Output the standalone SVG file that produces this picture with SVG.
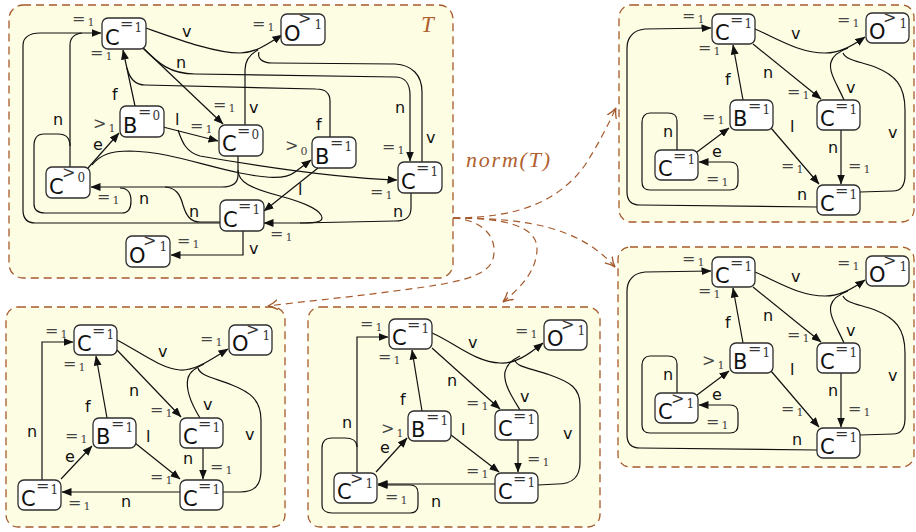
<svg xmlns="http://www.w3.org/2000/svg" width="916" height="532" viewBox="0 0 916 532">
<defs>
<style>
.pan{fill:#fdfde3;stroke:#a65a2c;stroke-width:1.3;stroke-dasharray:8 5}
.nd rect{fill:#fff;stroke:#2e2e2e;stroke-width:1.3}
.lt{font-family:"DejaVu Sans",sans-serif;font-size:21px;fill:#111}
.s{font-family:"DejaVu Serif","Liberation Serif",serif;font-size:16px;fill:#333}
.s tspan{font-size:12px}
.q{font-family:"DejaVu Serif","Liberation Serif",serif;font-size:16px;fill:#444}
.q tspan{font-size:11px}
.el{font-family:"DejaVu Sans",sans-serif;font-size:16px;fill:#111}
.e{fill:none;stroke:#111;stroke-width:1.2}
.a{marker-end:url(#ah)}
.dz{fill:none;stroke:#a65a2c;stroke-width:1.2;stroke-dasharray:7 5;marker-end:url(#oh)}
.br{font-family:"Liberation Serif",serif;font-style:italic;font-weight:normal;fill:#b0602e}
</style>
<marker id="ah" viewBox="0 0 10 8" refX="9.5" refY="4" markerWidth="10" markerHeight="8" markerUnits="userSpaceOnUse" orient="auto">
<path d="M0,0 L10,4 L0,8 z" fill="#111"/>
</marker>
<marker id="oh" viewBox="0 0 10 10" refX="9" refY="5" markerWidth="11" markerHeight="11" markerUnits="userSpaceOnUse" orient="auto">
<path d="M0,0.5 Q5,4 9,5 Q5,6 0,9.5" fill="none" stroke="#a65a2c" stroke-width="1.2" stroke-dasharray="none"/>
</marker>
</defs>

<!-- panels -->
<rect class="pan" x="9" y="5" width="444" height="273" rx="14"/>
<rect class="pan" x="619" y="5" width="295" height="217" rx="12"/>
<rect class="pan" x="618" y="247" width="296" height="220" rx="12"/>
<rect class="pan" x="6" y="307" width="279" height="220" rx="12"/>
<rect class="pan" x="308" y="307" width="292" height="220" rx="12"/>

<text class="br" x="421" y="32" font-size="23">T</text>
<text class="br" x="466" y="167" font-size="22" textLength="84" lengthAdjust="spacing">norm(T)</text>

<!-- transformation arrows -->
<g id="norm-arrows">
<path class="dz" d="M453,218 C520,218 560,200 585,165 C598,145 608,125 616,108"/>
<path class="dz" d="M453,218 C530,218 580,228 615,267"/>
<path class="dz" d="M453,218 C505,218 538,226 537,250 C536,272 520,288 503,302"/>
<path class="dz" d="M453,218 C485,220 500,240 492,262 C482,282 430,286 380,293 C340,298 300,302 268,306"/>
</g>

<!-- ===== graph T ===== -->
<g id="t-edges">
<path class="e a" d="M146,28 C180,40 215,53 240,53 C255,53 268,44 282,35"/>
<path class="e" d="M245,125 L245,70 C245,60 250,54 258,50"/>
<path class="e" d="M422,162 L422,92 C422,75 412,65 395,64 L272,63 C262,63 257,58 259,52"/>
<path class="e a" d="M143,48 L223,124"/>
<path class="e a" d="M143,48 C158,63 170,74 195,74 L395,77 C405,77 410,84 410,95 L410,161"/>
<path class="e a" d="M135,106 L123,50"/>
<path class="e" d="M330,137 L330,101 C330,93 325,89 316,89 L145,85 C136,85 130,80 127,68"/>
<path class="e a" d="M163,127 L218,141"/>
<path class="e a" d="M178,130 C182,142 186,152 200,156 C280,170 340,178 397,180"/>
<path class="e a" d="M92,165 C100,155 110,151 130,151 C170,152 200,165 240,173 C265,178 285,180 295,172 L311,160"/>
<path class="e a" d="M88,168 L119,133"/>
<path class="e a" d="M238,156 L238,175 C238,183 232,187 222,187 L91,187"/>
<path class="e a" d="M238,170 C238,182 250,188 280,196 C310,204 322,212 322,218 C322,222 315,223 305,223 L264,223"/>
<path class="e" d="M411,193 L411,208 C411,218 405,221 395,221 L300,223"/>
<path class="e" d="M220,222 L200,222 C190,222 186,215 183,205 C180,194 176,188 165,187"/>
<path class="e a" d="M220,223 L35,223 C27,223 23,218 23,210 L23,45 C23,38 29,33 40,33 L101,33"/>
<path class="e" d="M70,167 L70,45 C70,38 74,34 82,33"/>
<path class="e" d="M70,146 C70,138 66,134 58,134 L44,134 C37,134 34,138 34,146 L34,204 C34,210 38,213 45,213 L122,213 C129,213 131,208 131,201 C131,193 128,188 120,188"/>
<path class="e a" d="M318,168 L264,211"/>
<path class="e a" d="M243,231 L243,255 L171,255"/>
<text class="el" x="182" y="37">v</text>
<text class="el" x="176" y="68">n</text>
<text class="el" x="112" y="100">f</text>
<text class="el" x="53" y="125">n</text>
<text class="el" x="175" y="125">l</text>
<text class="el" x="93" y="150">e</text>
<text class="el" x="249" y="113">v</text>
<text class="el" x="395" y="113">n</text>
<text class="el" x="316" y="130">f</text>
<text class="el" x="426" y="143">v</text>
<text class="el" x="298" y="195">l</text>
<text class="el" x="393" y="217">n</text>
<text class="el" x="189" y="217">n</text>
<text class="el" x="139" y="204">n</text>
<text class="el" x="249" y="254">v</text>
</g>
<g id="t-c1" class="nd"><rect x="102" y="18" width="44" height="31" rx="6"/><text class="lt" x="105" y="45">C</text><text class="s" x="120" y="29">=<tspan dx="1" dy="3">1</tspan></text>
<text class="q" x="72" y="24">=<tspan dx="2" dy="2">1</tspan></text><text class="q" x="90" y="58">=<tspan dx="2" dy="2">1</tspan></text></g>
<g id="t-o" class="nd"><rect x="281" y="14" width="44" height="31" rx="6"/><text class="lt" x="284" y="41">O</text><text class="s" x="298" y="24">&gt;<tspan dx="3" dy="5">1</tspan></text>
<text class="q" x="252" y="29">=<tspan dx="2" dy="2">1</tspan></text></g>
<g id="t-b0" class="nd"><rect x="120" y="106" width="44" height="31" rx="6"/><text class="lt" x="123" y="133">B</text><text class="s" x="138" y="117">=<tspan dx="1" dy="3">0</tspan></text>
<text class="q" x="93" y="129">&gt;<tspan dx="2" dy="3">1</tspan></text></g>
<g id="t-c0" class="nd"><rect x="219" y="125" width="44" height="31" rx="6"/><text class="lt" x="222" y="151">C</text><text class="s" x="237" y="136">=<tspan dx="1" dy="3">0</tspan></text>
<text class="q" x="213" y="110">=<tspan dx="2" dy="2">1</tspan></text><text class="q" x="190" y="131">=<tspan dx="2" dy="2">1</tspan></text></g>
<g id="t-b1" class="nd"><rect x="312" y="137" width="44" height="31" rx="6"/><text class="lt" x="315" y="164">B</text><text class="s" x="330" y="148">=<tspan dx="1" dy="3">1</tspan></text>
<text class="q" x="285" y="151">&gt;<tspan dx="2" dy="4">0</tspan></text></g>
<g id="t-cr" class="nd"><rect x="398" y="162" width="44" height="31" rx="6"/><text class="lt" x="401" y="189">C</text><text class="s" x="416" y="173">=<tspan dx="1" dy="3">1</tspan></text>
<text class="q" x="382" y="152">=<tspan dx="2" dy="2">1</tspan></text><text class="q" x="370" y="197">=<tspan dx="2" dy="2">1</tspan></text></g>
<g id="t-cb" class="nd"><rect x="220" y="200" width="44" height="31" rx="6"/><text class="lt" x="223" y="227">C</text><text class="s" x="238" y="211">=<tspan dx="1" dy="3">1</tspan></text>
<text class="q" x="270" y="239">=<tspan dx="2" dy="2">1</tspan></text></g>
<g id="t-cl" class="nd"><rect x="46" y="167" width="44" height="31" rx="6"/><text class="lt" x="49" y="194">C</text><text class="s" x="62" y="178">&gt;<tspan dx="2" dy="4">0</tspan></text>
<text class="q" x="97" y="202">=<tspan dx="2" dy="2">1</tspan></text></g>
<g id="t-ob" class="nd"><rect x="126" y="236" width="44" height="31" rx="6"/><text class="lt" x="129" y="263">O</text><text class="s" x="143" y="246">&gt;<tspan dx="3" dy="5">1</tspan></text>
<text class="q" x="177" y="246">=<tspan dx="2" dy="2">1</tspan></text></g>

<!-- ===== normal form 1 (top right) ===== -->
<g id="n1-edges">
<path class="e a" d="M755,29 C780,40 800,53 825,53 C840,53 852,46 865,37"/>
<path class="e" d="M844,100 C838,86 828,72 831,62 C833,55 840,51 848,48"/>
<path class="e" d="M860,192 L893,191 C902,191 905,185 905,175 L905,110 C905,85 895,75 875,67 C858,61 846,60 843,53"/>
<path class="e a" d="M753,44 L821,99"/>
<path class="e a" d="M841,130 L841,184"/>
<path class="e a" d="M743,100 L733,45"/>
<path class="e a" d="M771,128 L819,184"/>
<path class="e a" d="M697,152 L729,128"/>
<path class="e a" d="M677,150 L677,121 C677,116 674,113 668,113 L650,113 C645,113 642,117 642,122 L642,182 C642,187 645,190 650,190 L730,190 C735,190 738,187 738,182 L738,170 C738,165 735,162 730,162 L699,162"/>
<path class="e a" d="M817,207 L640,205 C631,205 627,200 627,192 L627,48 C627,38 633,30 645,29 L711,28"/>
<text class="el" x="791" y="39">v</text>
<text class="el" x="763" y="78">n</text>
<text class="el" x="725" y="85">f</text>
<text class="el" x="790" y="132">l</text>
<text class="el" x="846" y="93">v</text>
<text class="el" x="888" y="138">v</text>
<text class="el" x="828" y="153">n</text>
<text class="el" x="663" y="137">n</text>
<text class="el" x="712" y="157">e</text>
<text class="el" x="797" y="200">n</text>
</g>
<g id="n1-c1" class="nd"><rect x="712" y="14" width="43" height="30" rx="6"/><text class="lt" x="715" y="40">C</text><text class="s" x="730" y="25">=<tspan dx="1" dy="3">1</tspan></text>
<text class="q" x="682" y="21">=<tspan dx="2" dy="2">1</tspan></text><text class="q" x="698" y="53">=<tspan dx="2" dy="2">1</tspan></text></g>
<g id="n1-o" class="nd"><rect x="866" y="13" width="43" height="30" rx="6"/><text class="lt" x="869" y="39">O</text><text class="s" x="883" y="23">&gt;<tspan dx="3" dy="5">1</tspan></text>
<text class="q" x="837" y="25">=<tspan dx="2" dy="2">1</tspan></text></g>
<g id="n1-b" class="nd"><rect x="730" y="100" width="43" height="30" rx="6"/><text class="lt" x="733" y="126">B</text><text class="s" x="748" y="111">=<tspan dx="1" dy="3">1</tspan></text>
<text class="q" x="702" y="122">=<tspan dx="2" dy="2">1</tspan></text></g>
<g id="n1-cm" class="nd"><rect x="817" y="100" width="43" height="30" rx="6"/><text class="lt" x="820" y="126">C</text><text class="s" x="835" y="111">=<tspan dx="1" dy="3">1</tspan></text>
<text class="q" x="787" y="97">=<tspan dx="2" dy="2">1</tspan></text></g>
<g id="n1-cl" class="nd"><rect x="655" y="150" width="43" height="30" rx="6"/><text class="lt" x="658" y="176">C</text><text class="s" x="673" y="161">=<tspan dx="1" dy="3">1</tspan></text>
<text class="q" x="706" y="184">=<tspan dx="2" dy="2">1</tspan></text></g>
<g id="n1-cb" class="nd"><rect x="817" y="185" width="43" height="30" rx="6"/><text class="lt" x="820" y="211">C</text><text class="s" x="835" y="196">=<tspan dx="1" dy="3">1</tspan></text>
<text class="q" x="781" y="171">=<tspan dx="2" dy="2">1</tspan></text><text class="q" x="848" y="171">=<tspan dx="2" dy="2">1</tspan></text></g>

<!-- ===== normal form 2 (bottom right) ===== -->
<g transform="translate(0,243)">
<g id="n2-edges">
<path class="e a" d="M755,29 C780,40 800,53 825,53 C840,53 852,46 865,37"/>
<path class="e" d="M844,100 C838,86 828,72 831,62 C833,55 840,51 848,48"/>
<path class="e" d="M860,192 L893,191 C902,191 905,185 905,175 L905,110 C905,85 895,75 875,67 C858,61 846,60 843,53"/>
<path class="e a" d="M753,44 L821,99"/>
<path class="e a" d="M841,130 L841,184"/>
<path class="e a" d="M743,100 L733,45"/>
<path class="e a" d="M771,128 L819,184"/>
<path class="e a" d="M697,152 L729,128"/>
<path class="e a" d="M677,150 L677,121 C677,116 674,113 668,113 L650,113 C645,113 642,117 642,122 L642,182 C642,187 645,190 650,190 L730,190 C735,190 738,187 738,182 L738,170 C738,165 735,162 730,162 L699,162"/>
<path class="e a" d="M817,207 L640,205 C631,205 627,200 627,192 L627,48 C627,38 633,30 645,29 L711,28"/>
<text class="el" x="791" y="39">v</text>
<text class="el" x="763" y="78">n</text>
<text class="el" x="725" y="85">f</text>
<text class="el" x="790" y="132">l</text>
<text class="el" x="846" y="93">v</text>
<text class="el" x="888" y="138">v</text>
<text class="el" x="828" y="153">n</text>
<text class="el" x="663" y="137">n</text>
<text class="el" x="712" y="157">e</text>
<text class="el" x="792" y="202">n</text>
</g>
<g id="n2-c1" class="nd"><rect x="712" y="14" width="43" height="30" rx="6"/><text class="lt" x="715" y="40">C</text><text class="s" x="730" y="25">=<tspan dx="1" dy="3">1</tspan></text>
<text class="q" x="682" y="21">=<tspan dx="2" dy="2">1</tspan></text><text class="q" x="698" y="53">=<tspan dx="2" dy="2">1</tspan></text></g>
<g id="n2-o" class="nd"><rect x="866" y="13" width="43" height="30" rx="6"/><text class="lt" x="869" y="39">O</text><text class="s" x="883" y="23">&gt;<tspan dx="3" dy="5">1</tspan></text>
<text class="q" x="837" y="25">=<tspan dx="2" dy="2">1</tspan></text></g>
<g id="n2-b" class="nd"><rect x="730" y="100" width="43" height="30" rx="6"/><text class="lt" x="733" y="126">B</text><text class="s" x="748" y="111">=<tspan dx="1" dy="3">1</tspan></text>
<text class="q" x="702" y="123">&gt;<tspan dx="2" dy="3">1</tspan></text></g>
<g id="n2-cm" class="nd"><rect x="817" y="100" width="43" height="30" rx="6"/><text class="lt" x="820" y="126">C</text><text class="s" x="835" y="111">=<tspan dx="1" dy="3">1</tspan></text>
<text class="q" x="787" y="97">=<tspan dx="2" dy="2">1</tspan></text></g>
<g id="n2-cl" class="nd"><rect x="655" y="150" width="43" height="30" rx="6"/><text class="lt" x="658" y="176">C</text><text class="s" x="671" y="161">&gt;<tspan dx="2" dy="4">1</tspan></text>
<text class="q" x="706" y="184">=<tspan dx="2" dy="2">1</tspan></text></g>
<g id="n2-cb" class="nd"><rect x="817" y="185" width="43" height="30" rx="6"/><text class="lt" x="820" y="211">C</text><text class="s" x="835" y="196">=<tspan dx="1" dy="3">1</tspan></text>
<text class="q" x="781" y="171">=<tspan dx="2" dy="2">1</tspan></text><text class="q" x="848" y="171">=<tspan dx="2" dy="2">1</tspan></text></g>
</g>

<!-- ===== normal form 3 (bottom left) ===== -->
<g id="n3-edges">
<path class="e a" d="M42,480 L42,342 L73,342"/>
<path class="e a" d="M180,492 L62,492"/>
<path class="e a" d="M61,479 L92,446"/>
<path class="e a" d="M107,418 L96,356"/>
<path class="e a" d="M135,443 L180,479"/>
<path class="e a" d="M117,350 L181,417"/>
<path class="e a" d="M203,448 L203,479"/>
<path class="e a" d="M117,340 C140,352 160,368 180,370 C195,371 210,360 228,349"/>
<path class="e" d="M200,418 C192,405 185,390 188,378 C190,371 196,368 204,364"/>
<path class="e" d="M223,492 L240,492 C255,492 261,485 261,470 L261,420 C261,400 250,392 232,385 C215,378 200,376 198,368"/>
<text class="el" x="158" y="357">v</text>
<text class="el" x="129" y="396">n</text>
<text class="el" x="85" y="412">f</text>
<text class="el" x="203" y="410">v</text>
<text class="el" x="146" y="442">l</text>
<text class="el" x="245" y="440">v</text>
<text class="el" x="183" y="464">n</text>
<text class="el" x="65" y="462">e</text>
<text class="el" x="27" y="437">n</text>
<text class="el" x="121" y="507">n</text>
</g>
<g id="n3-c1" class="nd"><rect x="74" y="325" width="43" height="30" rx="6"/><text class="lt" x="77" y="351">C</text><text class="s" x="92" y="336">=<tspan dx="1" dy="3">1</tspan></text>
<text class="q" x="45" y="336">=<tspan dx="2" dy="2">1</tspan></text><text class="q" x="63" y="369">=<tspan dx="2" dy="2">1</tspan></text></g>
<g id="n3-o" class="nd"><rect x="229" y="325" width="43" height="30" rx="6"/><text class="lt" x="232" y="351">O</text><text class="s" x="246" y="335">&gt;<tspan dx="3" dy="5">1</tspan></text>
<text class="q" x="200" y="344">=<tspan dx="2" dy="2">1</tspan></text></g>
<g id="n3-b" class="nd"><rect x="93" y="418" width="43" height="30" rx="6"/><text class="lt" x="96" y="444">B</text><text class="s" x="111" y="429">=<tspan dx="1" dy="3">1</tspan></text>
<text class="q" x="65" y="441">=<tspan dx="2" dy="2">1</tspan></text></g>
<g id="n3-cm" class="nd"><rect x="180" y="418" width="43" height="30" rx="6"/><text class="lt" x="183" y="444">C</text><text class="s" x="198" y="429">=<tspan dx="1" dy="3">1</tspan></text>
<text class="q" x="150" y="415">=<tspan dx="2" dy="2">1</tspan></text></g>
<g id="n3-cl" class="nd"><rect x="18" y="480" width="43" height="30" rx="6"/><text class="lt" x="21" y="506">C</text><text class="s" x="36" y="491">=<tspan dx="1" dy="3">1</tspan></text>
<text class="q" x="68" y="508">=<tspan dx="2" dy="2">1</tspan></text></g>
<g id="n3-cb" class="nd"><rect x="180" y="480" width="43" height="30" rx="6"/><text class="lt" x="183" y="506">C</text><text class="s" x="198" y="491">=<tspan dx="1" dy="3">1</tspan></text>
<text class="q" x="150" y="482">=<tspan dx="2" dy="2">1</tspan></text><text class="q" x="210" y="472">=<tspan dx="2" dy="2">1</tspan></text></g>

<!-- ===== normal form 4 (bottom middle) ===== -->
<g id="n4-edges">
<path class="e a" d="M357,473 L357,337 L388,337"/>
<path class="e a" d="M357,447 C357,441 352,438 345,438 L332,438 C325,438 322,442 322,448 L322,505 C322,510 326,513 332,513 L410,513 C415,513 418,510 418,505 L418,493 C418,488 415,485 410,485 L378,485"/>
<path class="e a" d="M495,484 L378,484"/>
<path class="e a" d="M376,472 L407,438"/>
<path class="e a" d="M422,411 L412,350"/>
<path class="e a" d="M451,435 L499,472"/>
<path class="e a" d="M432,348 L500,409"/>
<path class="e a" d="M518,440 L518,472"/>
<path class="e a" d="M432,333 C455,343 475,362 500,363 C515,364 528,355 543,343"/>
<path class="e" d="M520,410 C512,397 503,383 505,372 C507,364 512,360 520,356"/>
<path class="e" d="M538,485 L557,484 C573,484 580,477 580,462 L580,405 C580,388 570,382 550,375 C530,368 516,367 515,360"/>
<text class="el" x="468" y="348">v</text>
<text class="el" x="447" y="386">n</text>
<text class="el" x="400" y="405">f</text>
<text class="el" x="520" y="402">v</text>
<text class="el" x="461" y="435">l</text>
<text class="el" x="563" y="439">v</text>
<text class="el" x="380" y="453">e</text>
<text class="el" x="342" y="428">n</text>
<text class="el" x="431" y="507">n</text>
</g>
<g id="n4-c1" class="nd"><rect x="389" y="319" width="43" height="30" rx="6"/><text class="lt" x="392" y="345">C</text><text class="s" x="407" y="330">=<tspan dx="1" dy="3">1</tspan></text>
<text class="q" x="360" y="329">=<tspan dx="2" dy="2">1</tspan></text><text class="q" x="378" y="362">=<tspan dx="2" dy="2">1</tspan></text></g>
<g id="n4-o" class="nd"><rect x="544" y="320" width="43" height="30" rx="6"/><text class="lt" x="547" y="346">O</text><text class="s" x="561" y="330">&gt;<tspan dx="3" dy="5">1</tspan></text>
<text class="q" x="515" y="336">=<tspan dx="2" dy="2">1</tspan></text></g>
<g id="n4-b" class="nd"><rect x="408" y="411" width="43" height="30" rx="6"/><text class="lt" x="411" y="437">B</text><text class="s" x="426" y="422">=<tspan dx="1" dy="3">1</tspan></text>
<text class="q" x="381" y="434">&gt;<tspan dx="2" dy="3">1</tspan></text></g>
<g id="n4-cm" class="nd"><rect x="495" y="410" width="43" height="30" rx="6"/><text class="lt" x="498" y="436">C</text><text class="s" x="513" y="421">=<tspan dx="1" dy="3">1</tspan></text>
<text class="q" x="466" y="408">=<tspan dx="2" dy="2">1</tspan></text></g>
<g id="n4-cl" class="nd"><rect x="334" y="473" width="43" height="30" rx="6"/><text class="lt" x="337" y="499">C</text><text class="s" x="350" y="484">&gt;<tspan dx="2" dy="4">1</tspan></text>
<text class="q" x="385" y="502">=<tspan dx="2" dy="2">1</tspan></text></g>
<g id="n4-cb" class="nd"><rect x="495" y="473" width="43" height="30" rx="6"/><text class="lt" x="498" y="499">C</text><text class="s" x="513" y="484">=<tspan dx="1" dy="3">1</tspan></text>
<text class="q" x="466" y="476">=<tspan dx="2" dy="2">1</tspan></text><text class="q" x="527" y="464">=<tspan dx="2" dy="2">1</tspan></text></g>
</svg>
